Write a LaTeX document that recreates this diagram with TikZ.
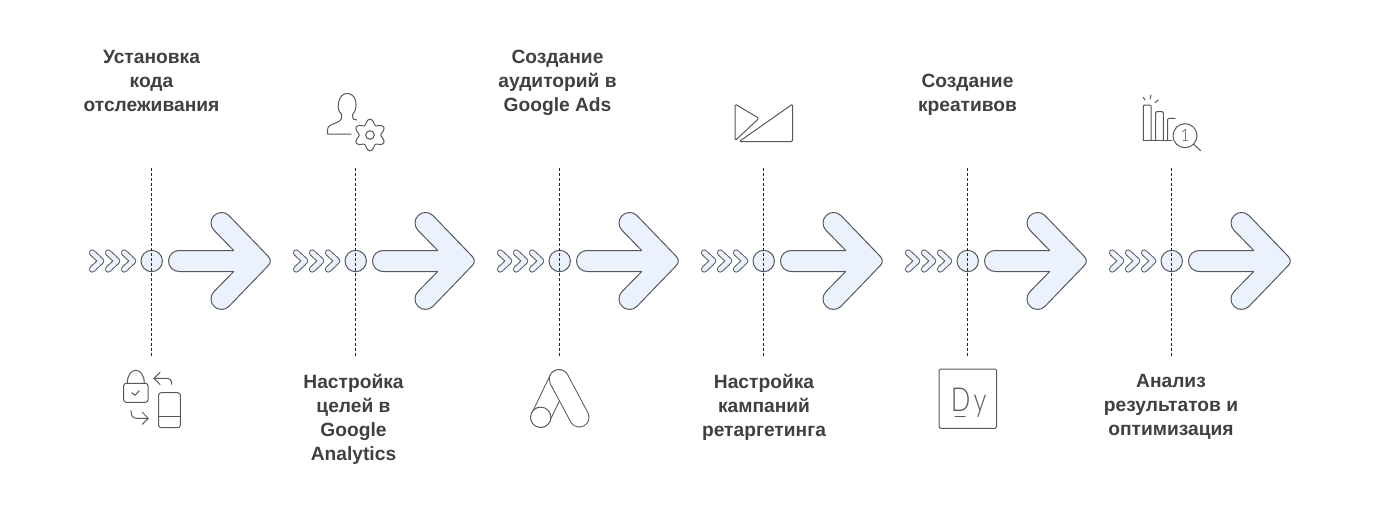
\documentclass[tikz,border=0pt]{standalone}
\usepackage{fontspec}
\setmainfont{Liberation Sans}
\newfontfamily\dyfont[FakeStretch=0.78]{Lato Light}
\newfontfamily\rankfont{Lato Light}
\usepackage{xcolor}
\usetikzlibrary{arrows.meta}
\definecolor{inkgray}{HTML}{55595E}
\definecolor{softblue}{HTML}{EBF1FD}
\definecolor{labelgray}{HTML}{404040}
\tikzset{
  outline/.style={draw=inkgray,line width=1pt,fill=softblue,line join=round},
  iconline/.style={draw=inkgray,line width=1pt,line cap=round,line join=round},
  chevron/.style={draw=inkgray,line width=1pt,double=softblue,double distance=4.6pt,line cap=round,line join=round},
  dashline/.style={draw=black!85,line width=0.8pt,dash pattern=on 2.5pt off 2.5pt},
  hub/.style={circle,outline,minimum size=21.4pt,inner sep=0pt},
  steplabel/.style={align=center,text=labelgray,inner sep=0pt,
    font=\fontsize{19.2}{24}\selectfont\bfseries},
}

\begin{document}
\begin{tikzpicture}[x=1pt,y=-1pt]
    \useasboundingbox (0,0) rectangle (1384,506);

    % Hubs, chevrons and big arrows
    \foreach \cx/\i in {151.7/1,355.7/2,559.7/3,763.7/4,967.7/5,1171.7/6} {
        \coordinate (top\i) at (\cx,168);
        \coordinate (bot\i) at (\cx,357);
        \node[hub] (hub\i) at (\cx,261) {};
        \begin{scope}[shift={(\cx,261)}]
            \foreach \d in {0,16,32} {
                \draw[chevron] (-59.5+\d,-8.3) -- (-50.7+\d,0) -- (-59.5+\d,8.3);
            }
            \draw[outline] (27.3,-10.5) -- (82,-10.5) -- (62.4,-30.6)
                arc[start angle=135,end angle=315,radius=10.5]
                [rounded corners=6pt] -- (121,0) [sharp corners] -- (77.2,45.4)
                arc[start angle=45,end angle=225,radius=10.5]
                -- (82,10.5) -- (27.3,10.5)
                arc[start angle=90,end angle=270,radius=10.5] -- cycle;
        \end{scope}
        \draw[dashline] (top\i) -- (bot\i);
    }

    % Labels
    \node[steplabel] (label1) at (151.5,81) {Установка\\кода\\отслеживания};
    \node[steplabel] (label2) at (353.5,419) {Настройка\\целей в\\Google\\Analytics};
    \node[steplabel] (label3) at (557.5,83) {Создание\\аудиторий в\\Google Ads};
    \node[steplabel] (label4) at (764,407) {Настройка\\кампаний\\ретаргетинга};
    \node[steplabel] (label5) at (967.5,95) {Создание\\креативов};
    \node[steplabel] (label6) at (1171,407) {Анализ\\результатов и\\оптимизация};

    % Lock and phone
    \draw[iconline,rounded corners=2.5pt] (123.7,383.3) rectangle (148,402.3);
    \draw[iconline] (127.3,383.3) .. controls (127.3,366) and (144.3,366) .. (144.3,383.3);
    \draw[iconline] (131.7,392.7) -- (135,395.3) -- (139.3,390.7);
    \draw[iconline,rounded corners=2.5pt] (158.7,392.7) rectangle (180.3,427.7);
    \draw[iconline] (158.7,416.7) -- (180.3,416.7);
    \draw[iconline] (171.7,384.3) .. controls (171.7,380) and (170,378.3) .. (166,378.3) -- (154,378.3);
    \draw[iconline] (160,372.3) -- (154,378.3) -- (160,384.5);
    \draw[iconline] (131,410.7) .. controls (131,416) and (133,418.3) .. (137,418.3) -- (148.3,418.3);
    \draw[iconline] (142.3,412.3) -- (148.3,418.3) -- (142.3,424.3);

    % Person with gear
    \draw[iconline] (351,134) -- (327.7,134) -- (327.7,129)
        .. controls (327.7,123) and (341.7,124) .. (341.7,117)
        -- (341.7,114.5) .. controls (337,111) and (338,103) .. (339,101)
        .. controls (341,91) and (353.5,91) .. (355.7,101)
        .. controls (356.5,105) and (356,111) .. (352.7,114.5)
        -- (352.7,117) .. controls (352.7,119) and (354,120) .. (356.7,120);
    \draw[iconline] plot[domain=0:360,samples=121,smooth]
        ({370+(13.3-2.5*cos(6*\x))*cos(\x)},{135+(13.3-2.5*cos(6*\x))*sin(\x)}) -- cycle;
    \draw[iconline] (370,135) circle (4.3);

    % Ads logo
    \draw[iconline,double=white,double distance=18.4pt] (559,379.3) -- (540.7,417.3);
    \draw[iconline,fill=white] (540.7,417.3) circle (10.2);
    \draw[iconline,double=white,double distance=18.4pt] (559,379.3) -- (579.3,417.3);

    % Triangles
    \draw[iconline,rounded corners=1.5pt] (735,104) -- (759,118.3) -- (735,140.7) -- cycle;
    \draw[iconline,rounded corners=1.5pt] (739,141.7) -- (792.7,104) -- (792.7,141.7) -- cycle;

    % Dy tile
    \draw[iconline,rounded corners=1.5pt] (939,369) rectangle (996.7,428.3);
    \node[inner sep=0pt,text=inkgray,font=\dyfont\fontsize{33}{33}\selectfont] (dy) at (968.7,403) {D\kern3pt y};
    \draw[iconline] (955,416.7) -- (965,416.7);

    % Bars with magnifier
    \draw[iconline,rounded corners=1pt] (1143.3,140.7) -- (1143.3,105) -- (1151,105) -- (1151,140.7);
    \draw[iconline,rounded corners=1pt] (1155.7,140.7) -- (1155.7,111.7) -- (1163.3,111.7) -- (1163.3,140.7);
    \draw[iconline,rounded corners=1pt] (1167.7,140.7) -- (1167.7,118.3) -- (1175,118.3);
    \draw[iconline] (1143.3,140.7) -- (1171.7,140.7);
    \draw[iconline,fill=white] (1185,135.7) circle (12);
    \node[inner sep=0pt,text=inkgray,font=\rankfont\fontsize{17}{17}\selectfont] (rank) at (1185,135.7) {1};
    \draw[iconline] (1193.5,144.2) -- (1200.7,150.7);
    \draw[iconline] (1143.3,97.3) -- (1145,100);
    \draw[iconline] (1151,95) -- (1150,99);
    \draw[iconline] (1158.3,100) -- (1155,102.7);
\end{tikzpicture}
\end{document}
